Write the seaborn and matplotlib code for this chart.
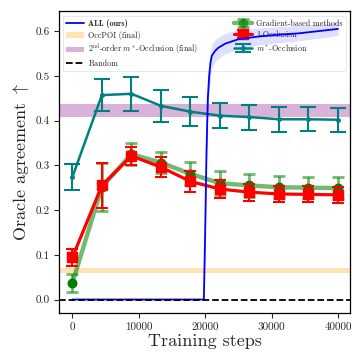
import numpy as np
import matplotlib
matplotlib.use("Agg")
import matplotlib.pyplot as plt
import seaborn as sns
from matplotlib.patches import Patch
from matplotlib.lines import Line2D

sns.set_style("ticks")
plt.rcParams["font.family"] = ["cmr10", "DejaVu Serif"]
plt.rcParams["mathtext.fontset"] = "cm"
plt.rcParams["axes.formatter.use_mathtext"] = True
plt.rcParams["axes.unicode_minus"] = False

# ---- data ----
steps = [0, 4444, 8889, 13333, 17778, 22222, 26667, 31111, 35556, 40000]

mstar_mean = [0.274, 0.457, 0.460, 0.433, 0.420, 0.411, 0.408, 0.403, 0.403, 0.402]
mstar_err = [0.029, 0.035, 0.038, 0.035, 0.032, 0.028, 0.028, 0.028, 0.027, 0.027]

occ1_mean = [0.094, 0.255, 0.321, 0.296, 0.264, 0.247, 0.240, 0.236, 0.235, 0.234]
occ1_err = [0.020, 0.050, 0.020, 0.022, 0.023, 0.020, 0.019, 0.018, 0.018, 0.018]

grad_mean = [0.037, 0.252, 0.325, 0.306, 0.281, 0.260, 0.255, 0.251, 0.250, 0.249]
grad_err = [0.021, 0.054, 0.025, 0.024, 0.026, 0.027, 0.026, 0.025, 0.024, 0.024]

all_steps = [0, 19000, 19800, 20000, 20200, 20400, 20600, 20800, 21000, 21500,
             22000, 23000, 25000, 28000, 31000, 34000, 37000, 40000]
all_mean = [0.0, 0.0, 0.0, 0.15, 0.33, 0.45, 0.50, 0.53, 0.545, 0.556,
            0.563, 0.572, 0.582, 0.588, 0.592, 0.595, 0.600, 0.605]
all_band = [0.0, 0.0, 0.0, 0.03, 0.03, 0.03, 0.028, 0.027, 0.026, 0.025,
            0.024, 0.023, 0.021, 0.019, 0.018, 0.017, 0.016, 0.015]

occpoi_band = [0.0595, 0.0707]
second_band = [0.409, 0.4375]
random_level = 0.0

xticks = [0, 10000, 20000, 30000, 40000]
yticks = [0.0, 0.1, 0.2, 0.3, 0.4, 0.5, 0.6]

# ---- figure ----
fig = plt.figure(figsize=(3.52, 3.56), dpi=100)
ax = fig.add_axes([0.168, 0.121, 0.826, 0.848])

ax.axhspan(occpoi_band[0], occpoi_band[1], color="orange", alpha=0.3, lw=0, zorder=1)
ax.axhspan(second_band[0], second_band[1], color="purple", alpha=0.3, lw=0, zorder=1)

# error-bar series
eg = ax.errorbar(steps, grad_mean, yerr=grad_err, color="green", marker="o", ms=6,
                 lw=3.2, alpha=0.55, capsize=4.5, capthick=2, elinewidth=2, zorder=3)
ax.plot(steps, grad_mean, "o", color="green", ms=6, zorder=4)
er = ax.errorbar(steps, occ1_mean, yerr=occ1_err, color="red", marker="s", ms=6.5,
                 lw=2.3, capsize=4, capthick=1.5, elinewidth=1.5, zorder=4)
et = ax.errorbar(steps, mstar_mean, yerr=mstar_err, color="teal", marker="o", ms=2.5,
                 lw=1.8, capsize=5.5, capthick=1.5, elinewidth=1.5, zorder=4)

# ALL (ours)
lo = np.array(all_mean) - np.array(all_band)
hi = np.array(all_mean) + np.array(all_band)
ax.fill_between(all_steps, lo, hi, color="blue", alpha=0.25, lw=0, zorder=5)
sns.lineplot(x=all_steps, y=all_mean, color="blue", lw=1.3, ax=ax, zorder=6)

ax.axhline(random_level, color="black", ls="--", lw=1.3, zorder=7)

ax.set_xlim(-2000, 41800)
ax.set_ylim(-0.03, 0.645)
ax.set_xticks(xticks)
ax.set_yticks(yticks)
ax.set_yticklabels([f"{v:.1f}" for v in yticks])
ax.set_xticklabels([str(v) for v in xticks])
ax.tick_params(labelsize=8, length=3.5, width=0.8)
for s in ax.spines.values():
    s.set_linewidth(0.9)
    s.set_color("black")

ax.set_xlabel("Training steps", fontsize=13, labelpad=1)
ax.set_ylabel(r"Oracle agreement $\uparrow$", fontsize=13, labelpad=3)

handles = [
    Line2D([0], [0], color="blue", lw=1.3),
    Patch(color="orange", alpha=0.3, lw=0),
    Patch(color="purple", alpha=0.3, lw=0),
    Line2D([0], [0], color="black", ls="--", lw=1.3),
    eg, er, et,
]
labels = [
    "ALL (ours)",
    "OccPOI (final)",
    r"2$^{\rm nd}$-order $m^*$-Occlusion (final)",
    "Random",
    "Gradient-based methods",
    "1-Occlusion",
    r"$m^*$-Occlusion",
]
leg = ax.legend(handles, labels, ncol=2, loc="upper left",
                bbox_to_anchor=(0.012, 0.985, 0.975, 0), mode="expand",
                fontsize=5.8, frameon=True, framealpha=0.5,
                handlelength=2.2, columnspacing=0.6,
                handletextpad=0.6, labelspacing=0.35, borderaxespad=0.0,
                borderpad=0.4)
leg.get_frame().set_linewidth(0.6)
leg.get_frame().set_edgecolor("#cccccc")
for t in leg.get_texts():
    if t.get_text() == "ALL (ours)":
        t.set_fontfamily(["cmb10", "DejaVu Serif"])

fig.savefig("out.png", dpi=100)
